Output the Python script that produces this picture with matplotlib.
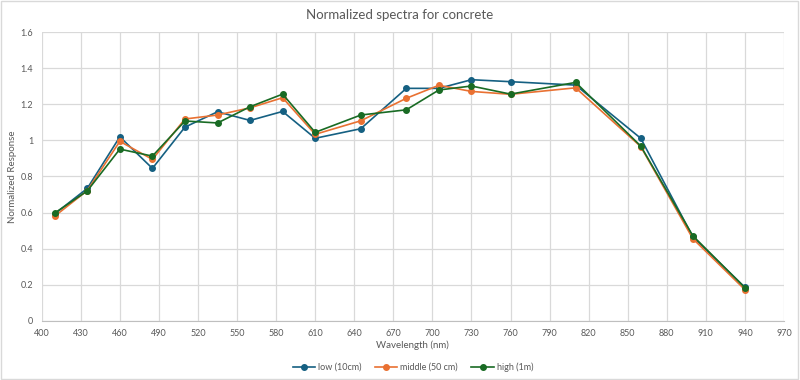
import matplotlib
matplotlib.use('Agg')
import matplotlib.pyplot as plt
import numpy as np

plt.rcParams['font.family'] = ['Lato', 'DejaVu Sans']

wavelengths = [410, 435, 460, 485, 510, 535, 560, 585, 610, 645,
               680, 705, 730, 760, 810, 860, 900, 940]
low = [0.593, 0.734, 1.020, 0.845, 1.074, 1.159, 1.111, 1.161, 1.012, 1.065,
       1.289, 1.289, 1.337, 1.326, 1.307, 1.012, 0.465, 0.185]
middle = [0.580, 0.722, 0.995, 0.895, 1.119, 1.141, 1.181, 1.237, 1.034, 1.109,
          1.234, 1.306, 1.272, 1.256, 1.292, 0.966, 0.455, 0.172]
high = [0.597, 0.720, 0.952, 0.913, 1.108, 1.097, 1.187, 1.257, 1.045, 1.141,
        1.170, 1.280, 1.302, 1.257, 1.322, 0.969, 0.471, 0.183]

series = [('low (10cm)', low, '#156082'),
          ('middle (50 cm)', middle, '#E97132'),
          ('high (1m)', high, '#196B24')]

xticks = np.arange(400, 971, 30)
yticks = np.arange(0, 1.61, 0.2)
ylabels = ['0', '0.2', '0.4', '0.6', '0.8', '1', '1.2', '1.4', '1.6']

fig = plt.figure(figsize=(8, 3.8), dpi=100)
ax = fig.add_axes([41.7 / 800, 1 - 320.7 / 380, (784 - 41.7) / 800, (320.7 - 32.3) / 380])

for name, vals, col in series:
    ax.plot(wavelengths, vals, color=col, lw=1.2, marker='o', ms=4, label=name)

ax.set_xlim(400, 970)
ax.set_ylim(0, 1.6)
ax.set_xticks(xticks)
ax.set_yticks(yticks)
ax.set_yticklabels(ylabels)
ax.grid(True, color='#d9d9d9', lw=0.9)
ax.set_axisbelow(True)
for s in ['top', 'right', 'left']:
    ax.spines[s].set_visible(False)
ax.spines['bottom'].set_color('#bfbfbf')
ax.tick_params(length=0, labelsize=6.5, colors='#595959', pad=6)

ax.set_xlabel('Wavelength (nm)', fontsize=7, color='#595959', labelpad=2)
ax.set_ylabel('Normalized Response', fontsize=7, color='#595959')
ax.yaxis.set_label_coords(-0.033, 0.5)
fig.text(0.5, 1 - 15 / 380, 'Normalized spectra for concrete', ha='center', va='center',
         fontsize=9.5, color='#595959')

leg = ax.legend(loc='center', bbox_to_anchor=(0.5, (320.7 - 367) / 288.4), ncol=3,
                frameon=False, fontsize=6.5, handlelength=2.5, columnspacing=1.5,
                handletextpad=0.3)
for t in leg.get_texts():
    t.set_color('#595959')

fig.patches.append(plt.Rectangle((0.001, 0.002), 0.997, 0.995, transform=fig.transFigure,
                                 fill=False, edgecolor='#d9d9d9', lw=1))

fig.savefig('out.png', dpi=100)
